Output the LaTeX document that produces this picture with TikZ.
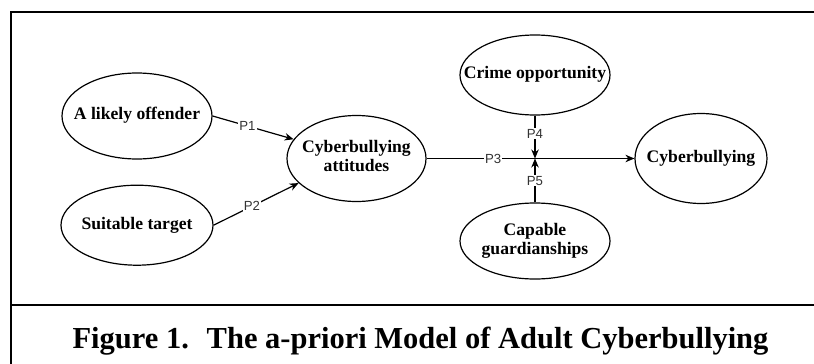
\documentclass[tikz,border=0pt]{standalone}
\usepackage{fontspec}
\setmainfont{Liberation Serif}
\newfontfamily\plabfamily{Liberation Sans}
\usepackage{tikz}
\usetikzlibrary{positioning,arrows.meta,shapes.geometric}

\newcommand{\ovtext}[1]{\makebox[0pt]{\begin{tabular}{@{}c@{}}#1\end{tabular}}}

\begin{document}
\begin{tikzpicture}[
    x=1pt, y=-1pt,
    font=\fontsize{17.6}{19}\selectfont\bfseries,
    node distance=25pt,
    oval/.style={draw, ellipse, line width=1.2pt, inner sep=0pt},
    plab/.style={fill=white, inner sep=1pt, text=black!80,
                 font=\plabfamily\fontsize{13.2}{14}\selectfont},
    arr/.style={-{Stealth[length=9pt, width=7.5pt]}, line width=1.2pt},
    frame/.style={line width=2pt}
]
\useasboundingbox (0,0) rectangle (814,364);
\draw[frame] (11,364) -- (11,11.5) -- (814,11.5);
\draw[frame] (11,305) -- (814,305);
\node[oval, minimum width=150pt, minimum height=86pt] (offender) at (137,116) {\ovtext{A likely offender}};
\node[oval, minimum width=152pt, minimum height=80pt, below=of offender] (target) {\ovtext{Suitable target}};
\node[oval, minimum width=139pt, minimum height=86pt] (att) at (356.5,158.5) {\ovtext{Cyberbullying\\attitudes}};
\node[oval, minimum width=150pt, minimum height=80pt] (crime) at (535,75) {\ovtext{Crime opportunity}};
\node[oval, minimum width=150pt, minimum height=76pt] (guard) at (535,241) {\ovtext{Capable\\guardianships}};
\node[oval, minimum width=132pt, minimum height=90pt] (cyb) at (701,158.5) {\ovtext{Cyberbullying}};
\coordinate (jn) at (535,158.5);
\draw[arr] (offender.east) -- (att.163) node[plab, pos=0.43] {P1};
\draw[arr] (target.east) -- (att.203) node[plab, pos=0.45] {P2};
\draw[arr] (att) -- (cyb) node[plab, pos=0.32] {P3};
\draw[arr] (crime) -- (jn) node[plab, pos=0.42] {P4};
\draw[arr] (guard) -- (jn) node[plab, pos=0.49] {P5};
\node[font=\fontsize{30.5}{34}\selectfont\bfseries, anchor=base] (caption) at (420.5,348)
     {Figure 1.~ The a-priori Model of Adult Cyberbullying};
\end{tikzpicture}
\end{document}
